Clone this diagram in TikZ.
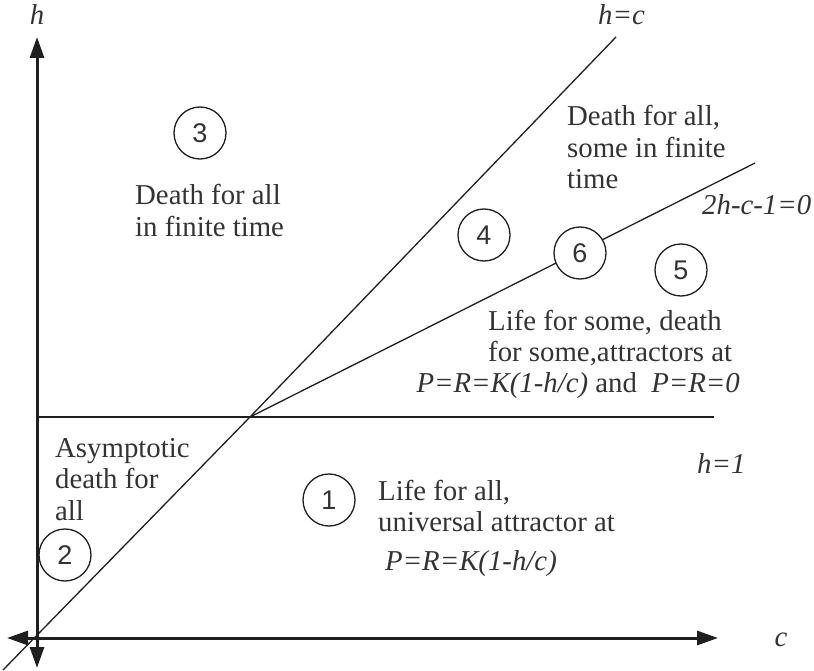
\documentclass[tikz,border=0pt]{standalone}
\usepackage{fontspec}
\setmainfont{Liberation Serif}
\newfontfamily\numfont{Liberation Sans}
\usetikzlibrary{arrows.meta}
\definecolor{txt}{rgb}{0.2,0.2,0.2}
\definecolor{ln}{rgb}{0.12,0.12,0.12}
\tikzset{
  axis/.style={line width=3pt,draw=ln,{Triangle[length=21pt,width=14pt]}-{Triangle[length=21pt,width=14pt]}},
  thin line/.style={line width=1.3pt,draw=ln},
  region/.style={circle,draw=ln,line width=1.3pt,fill=white,minimum size=52pt,inner sep=0pt,font=\numfont\fontsize{27}{30}\selectfont,text=txt},
  lab/.style={inner sep=0pt,text=txt,font=\fontsize{28.8}{31.5}\selectfont},
  ital/.style={lab,font=\fontsize{28.8}{31.5}\selectfont\itshape},
}
\newcommand{\lines}[1]{\begin{tabular}[t]{@{}l@{}}#1\end{tabular}}
\begin{document}
\begin{tikzpicture}[x=1pt,y=-1pt]
\useasboundingbox (0,0) rectangle (814,671);
% coordinates
\coordinate (xl) at (7,638);
\coordinate (xr) at (718,638);
\coordinate (yb) at (37,668);
\coordinate (yt) at (37,37);
\coordinate (hl) at (37,417);
\coordinate (hr) at (714,417);
\coordinate (X) at (250,417);
\coordinate (cb) at (3,670);
\coordinate (ct) at (616,37);
\coordinate (lt) at (755,163);
% lines
\draw[thin line] (hl) -- (hr);
\draw[thin line] (cb) -- (X) -- (ct);
\draw[thin line] (X) -- (lt);
% axes
\draw[axis] (xl) -- (xr);
\draw[axis] (yb) -- (yt);
% circles
\node[region] (c1) at (329,500) {1};
\node[region] (c2) at (65,555) {2};
\node[region] (c3) at (200,133) {3};
\node[region] (c4) at (484,235) {4};
\node[region] (c5) at (681,270) {5};
\node[region] (c6) at (580,253) {6};
% axis labels
\node[ital,anchor=base] (lh) at (37,25) {h};
\node[ital,anchor=base] (lc) at (781,646) {c};
\node[ital,anchor=base west] (lhc) at (598,25) {h=c};
\node[ital,anchor=base west] (lline) at (702,215) {2h-c-1=0};
\node[ital,anchor=base west] (lh1) at (697,473) {h=1};
% region texts
\node[lab,anchor=base west] (t4) at (567,126) {\lines{Death for all,\\some in finite\\time}};
\node[lab,anchor=base west] (t3) at (135,205) {\lines{Death for all\\in finite time}};
\node[lab,anchor=base west] (t2) at (55,457) {\lines{Asymptotic\\death for\\all}};
\node[lab,anchor=base west] (t5) at (488,330) {\lines{Life for some, death\\for some,attractors at}};
\node[lab,anchor=base east] (t5b) at (740,392) {\textit{P=R=K(1-h/c)} and\ \ \textit{P=R=0}};
\node[lab,anchor=base west] (t1) at (378,500) {\lines{Life for all,\\universal attractor at}};
\node[ital,anchor=base west] (t1b) at (385,570) {P=R=K(1-h/c)};
\end{tikzpicture}
\end{document}
